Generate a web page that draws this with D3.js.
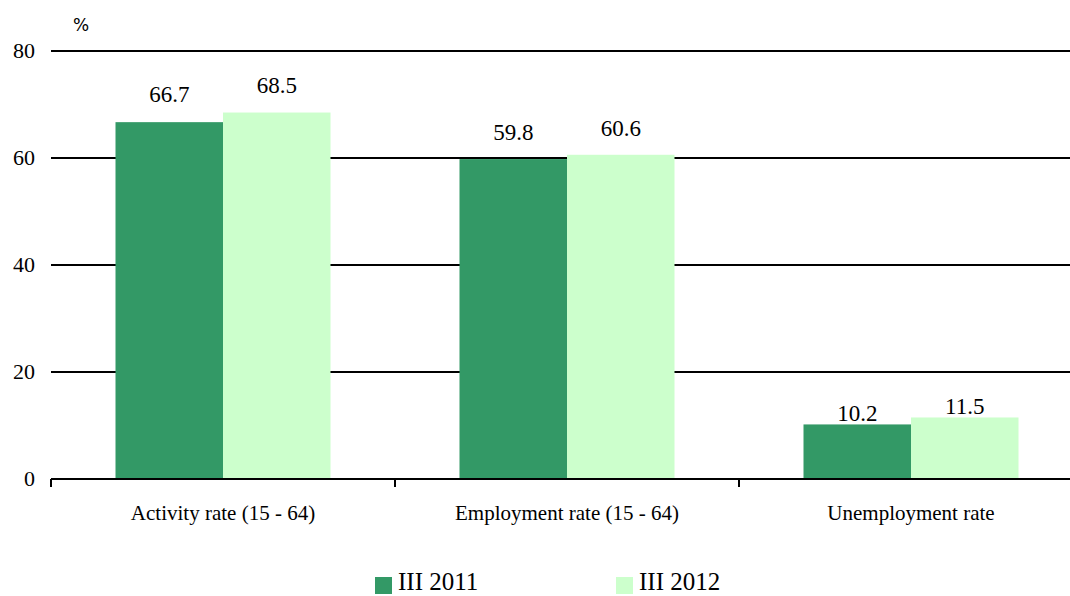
<!DOCTYPE html>
<html><head><meta charset="utf-8">
<script src="https://cdn.jsdelivr.net/npm/d3@7"></script>
<style>body{margin:0;background:#fff}svg{display:block}</style>
</head><body>
<svg id="c" width="1070" height="596"></svg>
<script>
const categories = ["Activity rate (15 - 64)", "Employment rate (15 - 64)", "Unemployment rate"];
const seriesNames = ["III 2011", "III 2012"];
const values2011 = [66.7, 59.8, 10.2];
const values2012 = [68.5, 60.6, 11.5];
const yTicks = [0, 20, 40, 60, 80];
const colors = ["#339966", "#CCFFCC"];
const labelGap = [20, 19, 3];

const svg = d3.select("#c");
const serif = "'Liberation Serif','Times New Roman',serif";
const y = d3.scaleLinear().domain([0, 80]).range([479, 51]);
const x0 = d3.scaleBand().domain(categories).range([51, 1083]);
const bw = x0.bandwidth();
const x1 = d3.scaleBand().domain(seriesNames).range([bw * 0.1875, bw * 0.8125]);
const series = [values2011, values2012];

svg.append("g").selectAll("line").data(yTicks.filter(d => d > 0)).join("line")
  .attr("x1", 51).attr("x2", 1070).attr("y1", d => y(d)).attr("y2", d => y(d))
  .attr("stroke", "#000").attr("stroke-width", 2);

svg.append("g").selectAll("text").data(yTicks).join("text")
  .attr("x", 35).attr("y", d => y(d) + 7).attr("text-anchor", "end")
  .attr("font-family", serif).attr("font-size", 22).text(d => d);

svg.append("text").attr("x", 73).attr("y", 31).attr("font-family", "'DejaVu Sans',sans-serif")
  .attr("font-size", 17).text("%");

categories.forEach((c, i) => {
  const g = svg.append("g").attr("transform", `translate(${x0(c)},0)`);
  seriesNames.forEach((s, j) => {
    const v = series[j][i];
    g.append("rect").attr("x", x1(s)).attr("width", x1.bandwidth())
      .attr("y", y(v)).attr("height", y(0) - y(v)).attr("fill", colors[j]);
    g.append("text").attr("x", x1(s) + x1.bandwidth() / 2).attr("y", y(v) - labelGap[i])
      .attr("text-anchor", "middle").attr("font-family", serif).attr("font-size", 23).text(v.toFixed(1));
  });
});

svg.append("line").attr("x1", 51).attr("x2", 1070).attr("y1", y(0)).attr("y2", y(0))
  .attr("stroke", "#000").attr("stroke-width", 2);
svg.append("g").selectAll("line").data(categories).join("line")
  .attr("x1", d => x0(d)).attr("x2", d => x0(d)).attr("y1", y(0)).attr("y2", y(0) + 8)
  .attr("stroke", "#000").attr("stroke-width", 2);
svg.append("g").selectAll("text").data(categories).join("text")
  .attr("x", d => x0(d) + bw / 2).attr("y", 520).attr("text-anchor", "middle")
  .attr("font-family", serif).attr("font-size", 21).text(d => d);

const legX = [375, 616];
seriesNames.forEach((s, j) => {
  svg.append("rect").attr("x", legX[j]).attr("y", 577).attr("width", 17).attr("height", 17).attr("fill", colors[j]);
  svg.append("text").attr("x", legX[j] + 23).attr("y", 590).attr("font-family", serif)
    .attr("font-size", 25).text(s);
});
</script>
</body></html>
